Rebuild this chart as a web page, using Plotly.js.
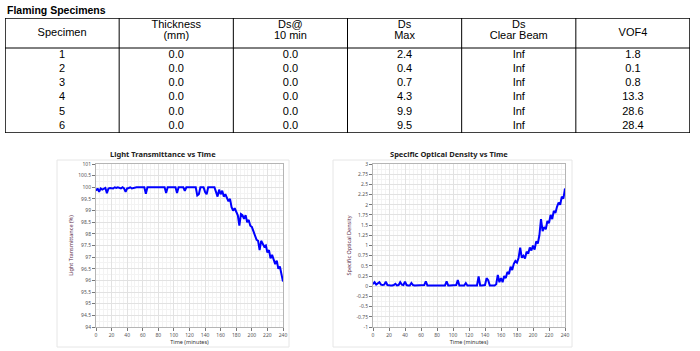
<!DOCTYPE html>
<html>
<head>
<meta charset="utf-8">
<script src="https://cdn.plot.ly/plotly-3.0.1.min.js"></script>
<style>
html,body{margin:0;padding:0;background:#fff;}
#chart{width:700px;height:351px;}
</style>
</head>
<body>
<div id="chart"></div>
<script>
// ---------- Table data ----------
const tableTitle = "Flaming Specimens";
const headerLine1 = ["Specimen", "Thickness", "Ds@", "Ds", "Ds", "VOF4"];
const headerLine2 = ["", "(mm)", "10 min", "Max", "Clear Beam", ""];
const specimen = [1, 2, 3, 4, 5, 6];
const thickness = [0.0, 0.0, 0.0, 0.0, 0.0, 0.0];
const ds10min = [0.0, 0.0, 0.0, 0.0, 0.0, 0.0];
const dsMax = [2.4, 0.4, 0.7, 4.3, 9.9, 9.5];
const dsClearBeam = ["Inf", "Inf", "Inf", "Inf", "Inf", "Inf"];
const vof4 = [1.8, 0.1, 0.8, 13.3, 28.6, 28.4];

// ---------- Chart data ----------
const timeMin = [
  0,2,4,6,8,10,12,14,16,18,
  20,22,24,26,28,30,32,34,36,38,
  40,42,44,46,48,50,52,54,56,58,
  60,62,64,66,68,70,72,74,76,78,
  80,82,84,86,88,90,92,94,96,98,
  100,102,104,106,108,110,112,114,116,118,
  120,122,124,126,128,130,132,134,136,138,
  140,142,144,146,148,150,152,154,156,158,
  160,162,164,166,168,170,172,174,176,178,
  180,182,184,186,188,190,192,194,196,198,
  200,202,204,206,208,210,212,214,216,218,
  220,222,224,226,228,230,232,234,236,238,
  240
];
const lightTransmittance = [
  99.85,99.95,99.8,99.95,99.9,99.95,99.97,99.75,99.95,99.97,
  99.97,99.95,100,99.97,100,99.97,99.95,100,99.95,99.8,
  99.95,99.97,100,99.95,99.97,100,100,100,100,100,
  100,100,99.72,100,100,100,100,100,100,100,
  100,100,100,100,100,99.75,100,100,100,100,
  100,100,99.75,100,100,100,100,99.85,100,100,
  100,100,100,100,100,99.65,99.7,100,100,100,
  99.8,99.7,100,100,100,100,100,99.8,99.6,99.9,
  99.7,99.85,99.6,99.7,99.5,99.4,99.5,99.15,99.0,99.1,
  98.95,98.8,98.35,98.85,98.8,98.65,98.8,98.5,98.6,98.35,
  98.3,98.1,98.0,97.75,97.7,97.3,97.7,97.55,97.45,97.5,
  97.2,97.3,96.95,97.1,96.85,96.7,96.85,96.5,96.6,96.25,
  95.95
];
const specificOpticalDensity = [
  0.05,0.1,0.04,0.08,0.1,0.04,0.03,0.04,0.11,0.03,
  0.02,0.02,0.02,0.03,0.06,0.02,0.03,0.1,0.04,0.03,
  0.11,0.03,0.02,0.02,0.08,0.03,0.02,0.02,0.02,0.02,
  0.02,0.02,0.03,0.12,0.02,0.02,0.02,0.02,0.02,0.02,
  0.02,0.02,0.02,0.02,0.02,0.02,0.12,0.02,0.02,0.02,
  0.02,0.02,0.03,0.15,0.02,0.02,0.02,0.02,0.08,0.02,
  0.02,0.02,0.02,0.02,0.02,0.02,0.24,0.02,0.02,0.02,
  0.03,0.2,0.15,0.02,0.02,0.02,0.02,0.05,0.28,0.1,
  0.2,0.1,0.25,0.2,0.35,0.3,0.48,0.4,0.55,0.62,
  0.58,0.7,0.95,0.7,0.75,0.68,0.85,0.8,0.95,0.88,
  1.0,0.9,1.1,1.05,1.25,1.65,1.35,1.45,1.4,1.6,
  1.55,1.75,1.65,1.85,1.8,1.95,2.05,2.0,2.2,2.15,
  2.4
];

const xTicks = [0,20,40,60,80,100,120,140,160,180,200,220,240];
const ltTicks = [94,94.5,95,95.5,96,96.5,97,97.5,98,98.5,99,99.5,100,100.5,101];
const ltTickText = ["94","94.5","95","95.5","96","96.5","97","97.5","98","98.5","99","99.5","100","100.5","101"];
const sodTicks = [-1,-0.75,-0.5,-0.25,0,0.25,0.5,0.75,1,1.25,1.5,1.75,2,2.25,2.5,2.75,3];
const sodTickText = ["-1","-0.75","-0.5","-0.25","0","0.25","0.5","0.75","1","1.25","1.5","1.75","2","2.25","2.5","2.75","3"];

const chartTitles = ["Light Transmittance vs Time", "Specific Optical Density vs Time"];
const yTitles = ["Light Transmittance (%)", "Specific Optical Density"];
const xTitle = "Time (minutes)";

// ---------- helpers (pixel -> paper) ----------
const W = 700, H = 351;
const px = x => x / W;
const py = y => 1 - y / H;

const tableFont = {family: "Liberation Sans, Arial, sans-serif", size: 11, color: "#000"};
const tickFont = {family: "Noto Sans, sans-serif", size: 5, color: "#555"};
const axTitleFont = {family: "Noto Sans, sans-serif", size: 5.5, color: "#5a2a48"};

// table geometry in row units: data row i centred on y=i, header above row 0.5
const rowPx = 85 / 6;
const headerTop = 0.5 - 30 / rowPx;
const headerMid = 0.5 - 15 / rowPx;
const headerL1 = 0.5 - 22.5 / rowPx;
const headerL2 = 0.5 - 12 / rowPx;

const fmt1 = v => (typeof v === "number") ? v.toFixed(1) : v;
const tableColumns = [specimen.map(String), thickness.map(fmt1), ds10min.map(fmt1), dsMax.map(fmt1), dsClearBeam, vof4.map(fmt1)];

const traces = [];
// table body text
tableColumns.forEach((col, c) => {
  traces.push({
    type: "scatter", mode: "text", xaxis: "x3", yaxis: "y3",
    x: col.map(() => c + 0.5), y: col.map((_, r) => r + 1),
    text: col, textposition: "middle center", textfont: tableFont,
    cliponaxis: false, hoverinfo: "skip"
  });
});
// table header text
traces.push({
  type: "scatter", mode: "text", xaxis: "x3", yaxis: "y3",
  x: headerLine1.map((_, c) => c + 0.5),
  y: headerLine1.map((_, c) => headerLine2[c] ? headerL1 : headerMid),
  text: headerLine1, textposition: "middle center", textfont: tableFont,
  cliponaxis: false, hoverinfo: "skip"
});
traces.push({
  type: "scatter", mode: "text", xaxis: "x3", yaxis: "y3",
  x: headerLine2.map((_, c) => c + 0.5),
  y: headerLine2.map(() => headerL2),
  text: headerLine2, textposition: "middle center", textfont: tableFont,
  cliponaxis: false, hoverinfo: "skip"
});
traces.push({
  type: "scatter", mode: "lines",
  x: timeMin, y: lightTransmittance,
  xaxis: "x", yaxis: "y",
  line: {color: "#0000ff", width: 2},
  hoverinfo: "skip"
});
traces.push({
  type: "scatter", mode: "lines",
  x: timeMin, y: specificOpticalDensity,
  xaxis: "x2", yaxis: "y2",
  line: {color: "#0000ff", width: 2},
  hoverinfo: "skip"
});

function xAxis(d0, d1, anchor) {
  return {
    domain: [px(d0), px(d1)], anchor: anchor, range: [0, 240],
    tickmode: "array", tickvals: xTicks,
    ticks: "outside", ticklen: 3, tickcolor: "#777", tickwidth: 1,
    tickfont: tickFont,
    showgrid: true, gridcolor: "#e2e2e2", gridwidth: 1,
    minor: {dtick: 5, showgrid: true, gridcolor: "#f3f3f3", ticks: ""},
    showline: true, linecolor: "#b5b5b5", mirror: true,
    zeroline: false, fixedrange: true,
    title: {text: xTitle, font: {family: "Noto Sans, sans-serif", size: 5.5, color: "#333"}, standoff: 3}
  };
}
function yAxis(range, vals, text, minorDt, title, anchor) {
  return {
    domain: [py(327), py(164)], anchor: anchor, range: range,
    tickmode: "array", tickvals: vals, ticktext: text,
    ticks: "outside", ticklen: 3, tickcolor: "#777", tickwidth: 1,
    tickfont: tickFont,
    showgrid: true, gridcolor: "#e2e2e2", gridwidth: 1,
    minor: {dtick: minorDt, showgrid: true, gridcolor: "#f3f3f3", ticks: ""},
    showline: true, linecolor: "#b5b5b5", mirror: true,
    zeroline: false, fixedrange: true,
    title: {text: title, font: axTitleFont, standoff: 4}
  };
}

const shapes = [];
// table outer border, header separator, column separators
shapes.push({type: "rect", xref: "x3", yref: "y3", x0: 0, x1: 6, y0: 6.5, y1: headerTop, line: {color: "#000", width: 1.5}});
shapes.push({type: "line", xref: "x3", yref: "y3", x0: 0, x1: 6, y0: 0.5, y1: 0.5, line: {color: "#000", width: 1}});
for (let c = 1; c < 6; c++) {
  shapes.push({type: "line", xref: "x3", yref: "y3", x0: c, x1: c, y0: 6.5, y1: headerTop, line: {color: "#000", width: 1}});
}
// chart panels
shapes.push({type: "rect", xref: "paper", yref: "paper", x0: px(57), x1: px(289), y0: py(347), y1: py(160), line: {color: "#e6e6e6", width: 1}, layer: "below"});
shapes.push({type: "rect", xref: "paper", yref: "paper", x0: px(333), x1: px(572), y0: py(347), y1: py(160), line: {color: "#e6e6e6", width: 1}, layer: "below"});

const annotations = [
  {text: "<b>" + tableTitle + "</b>", xref: "paper", yref: "paper", x: px(5), y: py(10), xanchor: "left", yanchor: "middle", showarrow: false, font: {family: "Liberation Sans, Arial, sans-serif", size: 10.5, color: "#000"}},
  {text: "<b>" + chartTitles[0] + "</b>", xref: "paper", yref: "paper", x: px(163), y: py(154), xanchor: "center", yanchor: "middle", showarrow: false, font: {family: "Noto Sans, sans-serif", size: 7.5, color: "#222"}},
  {text: "<b>" + chartTitles[1] + "</b>", xref: "paper", yref: "paper", x: px(449), y: py(154), xanchor: "center", yanchor: "middle", showarrow: false, font: {family: "Noto Sans, sans-serif", size: 7.5, color: "#222"}}
];

const hidden = {showgrid: false, zeroline: false, showline: false, showticklabels: false, ticks: "", fixedrange: true};

const layout = {
  width: 700, height: 351,
  margin: {l: 0, r: 0, t: 0, b: 0, pad: 0},
  paper_bgcolor: "#fff", plot_bgcolor: "#fff",
  showlegend: false,
  xaxis: xAxis(96, 283, "y"),
  yaxis: yAxis([94, 101], ltTicks, ltTickText, 0.25, yTitles[0], "x"),
  xaxis2: xAxis(373, 565, "y2"),
  yaxis2: yAxis([-1, 3], sodTicks, sodTickText, 0.125, yTitles[1], "x2"),
  xaxis3: Object.assign({domain: [px(5), px(690)], range: [0, 6], anchor: "y3"}, hidden),
  yaxis3: Object.assign({domain: [py(133), py(18)], range: [6.5, headerTop], anchor: "x3"}, hidden),
  shapes: shapes,
  annotations: annotations
};

Plotly.newPlot("chart", traces, layout, {displayModeBar: false, staticPlot: true});
</script>
</body>
</html>
